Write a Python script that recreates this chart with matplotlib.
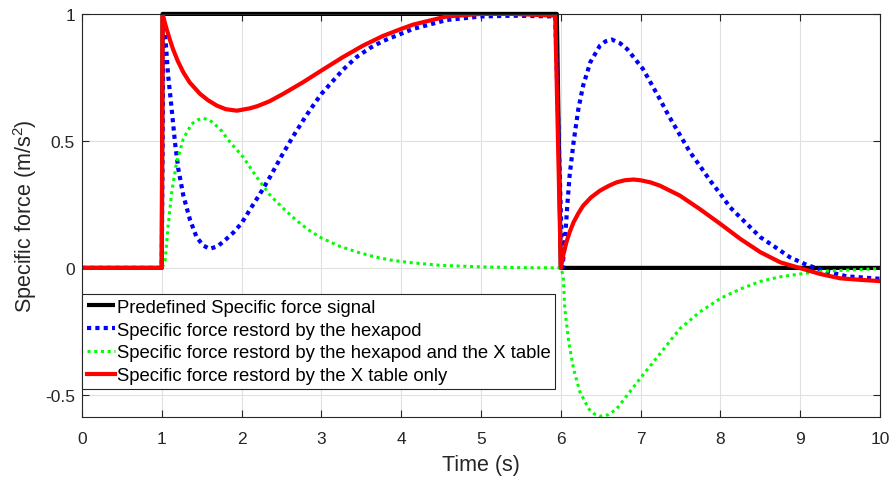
import matplotlib
matplotlib.use("Agg")
import matplotlib.pyplot as plt

plt.rcParams["font.family"] = ["Liberation Sans", "DejaVu Sans"]
plt.rcParams["mathtext.fontset"] = "custom"
plt.rcParams["mathtext.rm"] = "Liberation Sans"
plt.rcParams["mathtext.it"] = "Liberation Sans"

# Predefined signal (step)
t_ref = [0, 1.0, 1.01, 5.95, 6.0, 10]
f_ref = [0, 0, 1.0, 1.0, 0, 0]

# Restored by the hexapod
t_hex = [0, 1.0, 1.02, 1.04, 1.08, 1.124, 1.165, 1.207, 1.27, 1.353, 1.436, 1.52, 1.60,
         1.70, 1.81, 1.90, 2.0, 2.11, 2.23, 2.36, 2.50, 2.63, 2.80, 2.92, 3.0, 3.13,
         3.27, 3.44, 3.61, 3.77, 4.0, 4.15, 4.57, 5.0, 5.4, 5.93, 6.02, 6.05, 6.08,
         6.11, 6.16, 6.22, 6.28, 6.37, 6.49, 6.56, 6.64, 6.74, 6.83, 7.03, 7.24, 7.35,
         7.62, 7.74, 7.87, 8.0, 8.12, 8.29, 8.5, 8.69, 8.87, 9.08, 9.33, 9.58, 10]
f_hex = [0, 0, 0.99, 0.928, 0.757, 0.626, 0.495, 0.39, 0.285, 0.19, 0.121, 0.088, 0.075,
         0.085, 0.114, 0.140, 0.176, 0.232, 0.291, 0.36, 0.44, 0.51, 0.595, 0.65, 0.685,
         0.731, 0.78, 0.83, 0.866, 0.893, 0.922, 0.941, 0.976, 0.99, 0.993, 0.99, 0.0,
         0.10, 0.24, 0.363, 0.495, 0.626, 0.718, 0.81, 0.875, 0.892, 0.899, 0.885, 0.862,
         0.783, 0.665, 0.60, 0.455, 0.403, 0.344, 0.291, 0.239, 0.186, 0.121, 0.081,
         0.042, 0.012, -0.014, -0.033, -0.043]

# Restored by the hexapod and the X table
t_both = [0, 1.0, 1.04, 1.08, 1.124, 1.186, 1.27, 1.374, 1.45, 1.52, 1.60, 1.73, 1.855,
          1.94, 2.02, 2.19, 2.36, 2.52, 2.69, 2.86, 3.0, 3.23, 3.45, 3.65, 3.86, 4.11,
          4.49, 5.0, 5.5, 6.0, 6.03, 6.05, 6.10, 6.16, 6.24, 6.35, 6.42, 6.49, 6.60,
          6.70, 6.99, 7.24, 7.49, 7.74, 8.0, 8.25, 8.5, 8.75, 9.0, 9.25, 9.5, 10]
f_both = [0, 0, 0.022, 0.167, 0.298, 0.416, 0.508, 0.567, 0.583, 0.589, 0.582, 0.547,
          0.495, 0.465, 0.436, 0.357, 0.285, 0.235, 0.186, 0.145, 0.118, 0.085, 0.062,
          0.045, 0.031, 0.021, 0.01, 0.004, 0.001, 0.0, -0.03, -0.161, -0.293, -0.398,
          -0.489, -0.555, -0.575, -0.584, -0.578, -0.555, -0.437, -0.339, -0.24, -0.174,
          -0.12, -0.083, -0.053, -0.035, -0.024, -0.014, -0.01, -0.003]

# Restored by the X table only
t_xt = [0, 1.0, 1.01, 1.03, 1.06, 1.10, 1.14, 1.20, 1.27, 1.35, 1.48, 1.58, 1.69, 1.80,
        1.94, 2.10, 2.20, 2.35, 2.52, 2.77, 3.0, 3.27, 3.52, 3.77, 4.0, 4.15, 4.57, 5.0,
        5.4, 5.93, 6.0, 6.03, 6.07, 6.11, 6.16, 6.22, 6.28, 6.38, 6.49, 6.60, 6.70, 6.80,
        6.91, 7.0, 7.12, 7.24, 7.49, 7.74, 8.0, 8.25, 8.5, 8.75, 9.0, 9.25, 9.5, 9.75, 10]
f_xt = [0, 0, 1.0, 0.975, 0.941, 0.90, 0.862, 0.815, 0.77, 0.73, 0.685, 0.66, 0.639,
        0.625, 0.619, 0.628, 0.637, 0.656, 0.685, 0.731, 0.777, 0.83, 0.875, 0.913, 0.941,
        0.958, 0.99, 1.0, 1.0, 0.993, 0.0, 0.05, 0.101, 0.14, 0.18, 0.215, 0.245, 0.278,
        0.304, 0.323, 0.337, 0.345, 0.348, 0.345, 0.337, 0.324, 0.285, 0.232, 0.173,
        0.114, 0.062, 0.022, -0.001, -0.024, -0.041, -0.047, -0.052]

labels = ["Predefined Specific force signal",
          "Specific force restord by the hexapod",
          "Specific force restord by the hexapod and the X table",
          "Specific force restord by the X table only"]

fig = plt.figure(figsize=(8.91, 4.81), dpi=100)
ax = fig.add_axes([0.092, 0.131, 0.8957, 0.838])

ax.plot(t_ref, f_ref, color="k", lw=3, label=labels[0], clip_on=False,
        solid_capstyle="butt")
ax.plot(t_hex, f_hex, color="b", lw=3, ls=(0, (1, 1)), label=labels[1])
ax.plot(t_both, f_both, color="#00ff00", lw=2.2, ls=(0, (1, 1.2)), label=labels[2])
ax.plot(t_xt, f_xt, color="r", lw=3, label=labels[3], solid_joinstyle="round")

ax.set_xlim(0, 10)
ax.set_ylim(-0.587, 1)
ax.set_xticks(range(11))
ax.set_yticks([-0.5, 0, 0.5, 1])
ax.set_yticklabels(["-0.5", "0", "0.5", "1"])
ax.tick_params(direction="in", top=True, right=True, labelsize=12.5,
               length=5, width=0.8, colors="#262626")
ax.tick_params(axis="x", pad=10)
ax.tick_params(axis="y", pad=5)
ax.grid(True, color="#e0e0e0", lw=0.8)
ax.set_axisbelow(True)
for s in ax.spines.values():
    s.set_color("#262626")
    s.set_linewidth(0.8)

ax.set_xlabel("Time (s)", fontsize=15.5, color="#262626", labelpad=6)
ax.set_ylabel("Specific force (m/s$^2$)", fontsize=15.5, color="#262626", labelpad=4)

leg = ax.legend(loc="upper left", bbox_to_anchor=(0.0, 0.305), fontsize=13.3,
                frameon=True, fancybox=False, framealpha=1, edgecolor="#262626",
                borderaxespad=0, borderpad=0.25, handlelength=1.55,
                handletextpad=0.1, labelspacing=0.32)
leg.get_frame().set_linewidth(0.8)

fig.savefig("out.png", dpi=100)
